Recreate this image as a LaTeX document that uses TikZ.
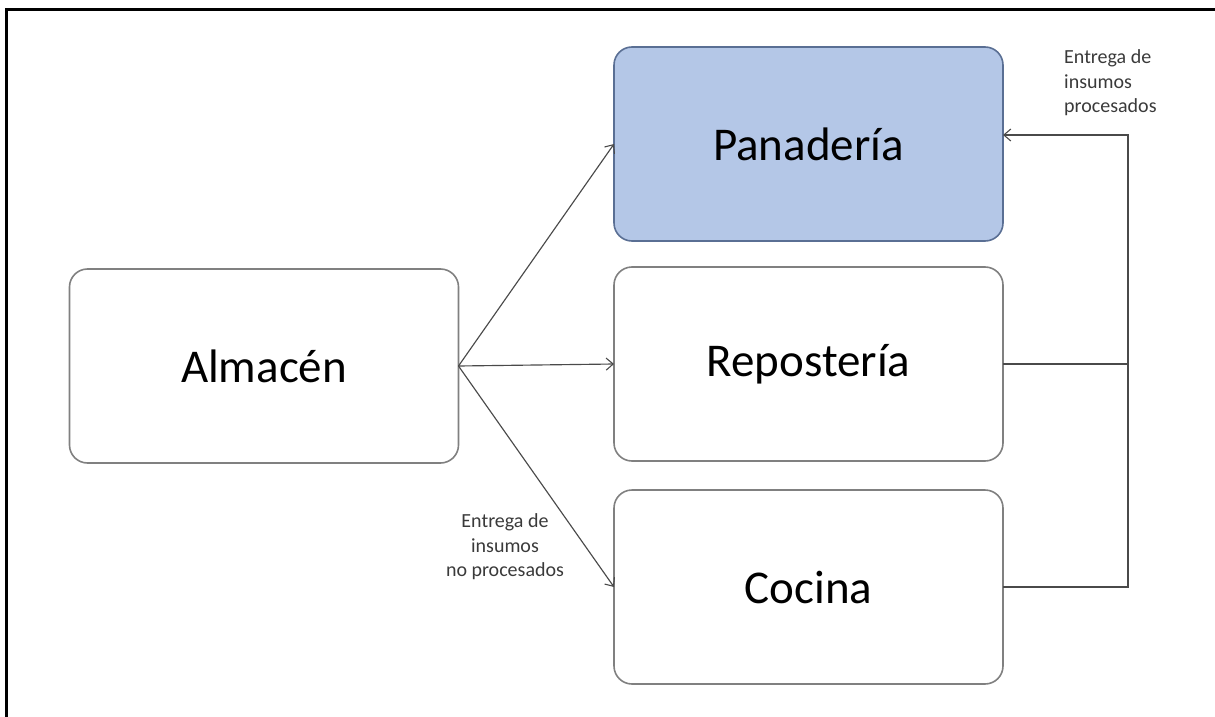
\documentclass[tikz,border=0pt]{standalone}
\usepackage{fontspec}
\setmainfont{Carlito}
\usetikzlibrary{arrows.meta}
\definecolor{boxline}{HTML}{808080}
\definecolor{blueline}{HTML}{5A6F94}
\definecolor{bluefill}{HTML}{B4C7E7}
\definecolor{wire}{HTML}{4A4A4A}
\definecolor{note}{HTML}{3A3A3A}
\tikzset{
  area/.style={draw=boxline, line width=1.6pt, rounded corners=18pt,
    minimum width=389pt, minimum height=194pt, inner sep=0pt, outer sep=0pt,
    font=\fontsize{47}{56}\selectfont, text=black},
  hilite/.style={area, draw=blueline, fill=bluefill},
  flow/.style={draw=wire, line width=1.15pt, -{Straight Barb[length=7pt,width=12pt,line width=1.1pt]}},
  plain/.style={draw=wire, line width=1.15pt},
  tag/.style={font=\fontsize{20}{24.5}\selectfont, text=note, inner sep=0pt}
}
\begin{document}
\begin{tikzpicture}[x=1pt,y=-1pt]
  \useasboundingbox (0,0) rectangle (1215,717);
  \begin{scope}
    \clip (0,0) rectangle (1215,717);
    % page frame, cut by the page edge on the right and bottom
    \draw[line width=3pt, black] (6.5,9.5) rectangle (1240,740);
  \end{scope}

  % areas
  \node[area]   (alm) at (264,366)   {Almacén};
  \node[hilite] (pan) at (808.5,144) {Panadería};
  \node[area]   (rep) at (808.5,364) {Repostería};
  \node[area]   (coc) at (808.5,587) {Cocina};

  % raw supplies from the store
  \draw[flow] (alm.east) -- (pan.west);
  \draw[flow] (alm.east) -- (rep.west);
  \draw[flow] (alm.east) -- (coc.west);

  % processed supplies going back to the bakery
  \coordinate (j) at (1128,135);
  \draw[plain] (rep.east) -- (rep.east -| j);
  \draw[flow] (coc.east) -| (j) -- (j -| pan.east);

  % labels
  \node[tag, align=center] (lraw) at (505,547)
    {Entrega de\\insumos\\no procesados};
  \node[tag, align=left, anchor=west] (lproc) at (1064,83)
    {Entrega de\\insumos\\procesados};
\end{tikzpicture}
\end{document}
